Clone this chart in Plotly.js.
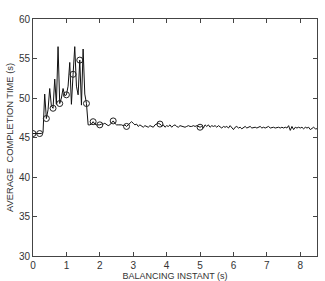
<!DOCTYPE html>
<html>
<head>
<meta charset="utf-8">
<script src="https://cdn.plot.ly/plotly-3.0.1.min.js"></script>
<style>html,body{margin:0;padding:0;background:#fff;}#chart{width:325px;height:281px;}</style>
</head>
<body>
<div id="chart"></div>
<script>
// Line sampled every 0.05 s starting at 0
var lineStart = 0;
var lineStep = 0.05;
var lineValues = [
45.5,45.5,45.5,45.5,45.5,45.5,45.6,50.5,47.4,48.5,
51.2,49.0,48.7,52.4,49.2,56.5,49.3,50.0,51.2,50.3,
50.4,51.5,54.5,49.2,53.0,56.5,51.5,50.4,54.8,49.1,
56.2,50.5,49.3,46.6,46.6,46.7,47.0,46.7,46.6,46.6,
46.6,46.7,46.7,46.8,46.7,46.5,46.6,46.9,47.1,46.8,
46.6,46.6,46.6,46.6,46.5,46.6,46.4,46.6,46.8,47.0,
46.8,46.6,46.7,46.4,46.6,46.5,46.3,46.5,46.4,46.3,
46.5,46.4,46.3,46.6,46.7,46.8,46.7,46.5,46.6,46.3,
46.5,46.4,46.6,46.3,46.5,46.6,46.4,46.3,46.5,46.4,
46.4,46.3,46.4,46.5,46.4,46.4,46.5,46.4,46.5,46.4,
46.3,46.4,46.2,46.6,46.4,46.6,46.3,46.5,46.4,46.5,
46.3,46.5,46.4,46.2,46.4,46.3,46.4,46.2,46.5,46.3,
46.0,46.3,46.4,46.2,46.3,46.1,46.3,46.4,46.2,46.3,
46.4,46.2,46.3,46.3,46.2,46.3,46.4,46.2,46.3,46.2,
46.3,46.4,46.2,46.3,46.3,46.2,46.3,46.3,46.2,46.3,
46.2,46.3,46.2,46.5,45.9,46.4,46.0,46.3,46.2,46.3,
46.2,46.3,46.1,46.3,46.2,46.3,46.0,46.2,46.3,46.1,
46.1
];
// Circle markers
var markerX = [0, 0.2, 0.4, 0.6, 0.8, 1.0, 1.2, 1.4, 1.6, 1.8, 2.0, 2.4, 2.8, 3.8, 5.0];
var markerY = [45.5, 45.5, 47.4, 48.7, 49.3, 50.4, 53.0, 54.8, 49.3, 47.0, 46.6, 47.1, 46.4, 46.7, 46.3];
var xTicks = [0,1,2,3,4,5,6,7,8];
var yTicks = [30,35,40,45,50,55,60];

var traces = [
  {type:'scatter', mode:'lines', x0:lineStart, dx:lineStep, y:lineValues,
   line:{color:'#111', width:1}, hoverinfo:'skip'},
  {type:'scatter', mode:'markers', x:markerX, y:markerY,
   marker:{symbol:'circle-open', size:6, color:'#222', line:{width:1, color:'#222'}}}
];
var axisCommon = {
  showgrid:false, zeroline:false, showline:true, mirror:'ticks',
  linecolor:'#444', linewidth:1, ticks:'inside', ticklen:4, tickcolor:'#444',
  tickfont:{family:'Liberation Sans, Arial, sans-serif', size:10, color:'#333'}
};
var layout = {
  width:325, height:281,
  margin:{l:33, r:8, t:19, b:25},
  paper_bgcolor:'#fff', plot_bgcolor:'#fff',
  showlegend:false,
  xaxis: Object.assign({}, axisCommon, {range:[0,8.5], tickvals:xTicks,
    title:{text:'BALANCING INSTANT (s)', standoff:8, font:{family:'Liberation Sans, Arial, sans-serif', size:9, color:'#333'}}}),
  yaxis: Object.assign({}, axisCommon, {range:[30,60], tickvals:yTicks,
    title:{text:'AVERAGE  COMPLETION TIME (s)', standoff:3, font:{family:'Liberation Sans, Arial, sans-serif', size:9.3, color:'#333'}}})
};
Plotly.newPlot('chart', traces, layout, {displayModeBar:false, staticPlot:true});
</script>
</body>
</html>
